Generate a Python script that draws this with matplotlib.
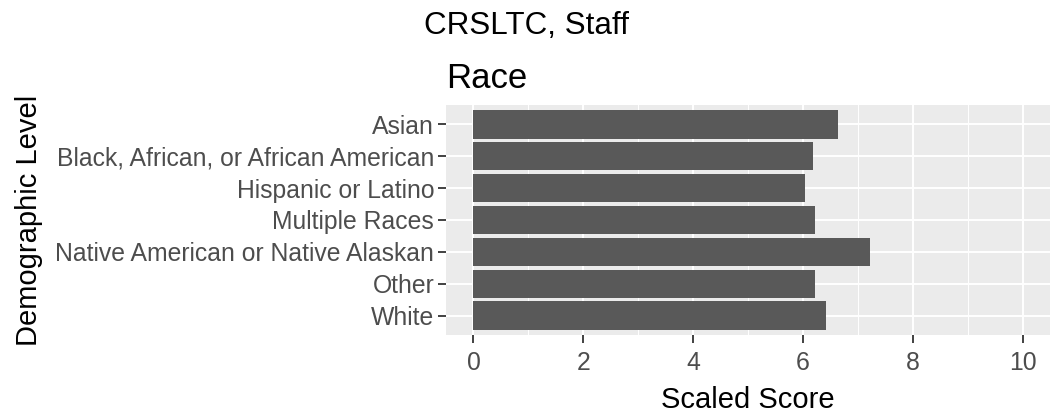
import numpy as np
import matplotlib.pyplot as plt

# Data
categories = ["Asian", "Black, African, or African American", "Hispanic or Latino",
              "Multiple Races", "Native American or Native Alaskan", "Other", "White"]
scores = [6.63, 6.19, 6.04, 6.22, 7.23, 6.22, 6.42]
x_ticks = [0, 2, 4, 6, 8, 10]

plt.rcParams['font.family'] = ['Liberation Sans', 'DejaVu Sans']

W, H = 1052, 412
fig = plt.figure(figsize=(W / 100, H / 100), dpi=100)
# panel position in pixels: left 446, right 1050, top 105, bottom 335
ax = fig.add_axes([446 / W, (H - 335) / H, (1050 - 446) / W, 230 / H])

ax.set_facecolor('#EBEBEB')
for s in ax.spines.values():
    s.set_visible(False)

# categories from top to bottom
ypos = np.arange(len(categories))[::-1] + 1
ax.barh(ypos, scores, height=0.9, color='#595959', zorder=3)

ax.set_xlim(-0.5, 10.5)
ax.set_ylim(0.4, len(categories) + 0.6)
ax.set_xticks(x_ticks)
ax.set_xticks([1, 3, 5, 7, 9], minor=True)
ax.set_yticks(ypos)
ax.set_yticklabels(categories)

ax.grid(which='major', color='white', linewidth=1.4, zorder=1)
ax.grid(which='minor', axis='x', color='white', linewidth=0.7, zorder=1)
ax.tick_params(axis='both', which='major', colors='#333333', length=5.5, width=1.3,
               labelsize=17.8, labelcolor='#4D4D4D')
ax.tick_params(axis='y', which='major', pad=3)
ax.tick_params(axis='x', which='major', pad=6)
ax.tick_params(axis='both', which='minor', length=0)

ax.set_xlabel('Scaled Score', fontsize=21, color='black', labelpad=8)
ax.set_ylabel('Demographic Level', fontsize=21, color='black', labelpad=9)
ax.set_title('Race', fontsize=25, loc='left', color='black', pad=12)

fig.text(0.5, 1 - 34 / H, 'CRSLTC, Staff', fontsize=22.6, ha='center', va='baseline')

fig.savefig('out.png', dpi=100)
